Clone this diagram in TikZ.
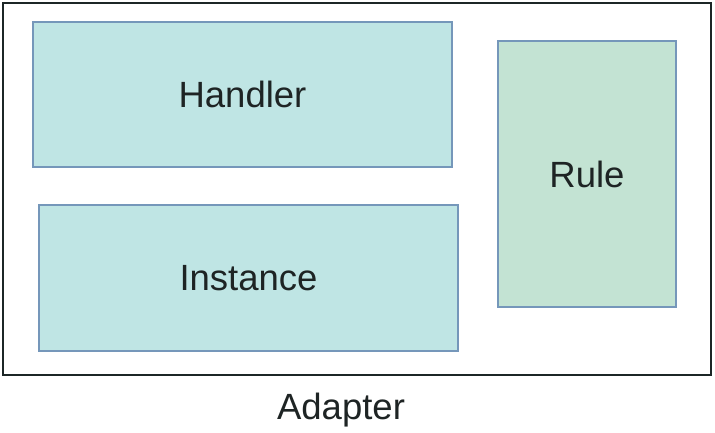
\documentclass[tikz,border=0pt]{standalone}
\usepackage{fontspec}
\setmainfont{Liberation Sans}
\definecolor{boxfill}{HTML}{BFE5E4}
\definecolor{rulefill}{HTML}{C3E3D3}
\definecolor{boxline}{HTML}{7597BA}
\definecolor{outline}{HTML}{1C2626}
\definecolor{txt}{HTML}{1E2424}
\begin{document}
\begin{tikzpicture}[x=1pt,y=-1pt,
  comp/.style={draw=boxline,line width=2.4pt,fill=boxfill,text=txt,font=\fontsize{36.5}{40}\selectfont},
  rulebox/.style={comp,fill=rulefill}]
\useasboundingbox (0,0) rectangle (715,433);
\node[draw=outline,line width=2pt,minimum width=708pt,minimum height=372pt,inner sep=0pt] (adapter) at (357,189) {};
\node[comp,minimum width=419pt,minimum height=145pt,inner sep=0pt] (handler) at (242.5,94.5) {Handler};
\node[comp,minimum width=419pt,minimum height=146pt,inner sep=0pt] (instance) at (248.5,278) {Instance};
\node[rulebox,minimum width=178pt,minimum height=266pt,inner sep=0pt] (rule) at (587,174) {Rule};
\node[text=txt,font=\fontsize{36.5}{40}\selectfont,anchor=north] (label) at ([xshift=-16pt,yshift=-14pt]adapter.south) {Adapter};
\end{tikzpicture}
\end{document}
